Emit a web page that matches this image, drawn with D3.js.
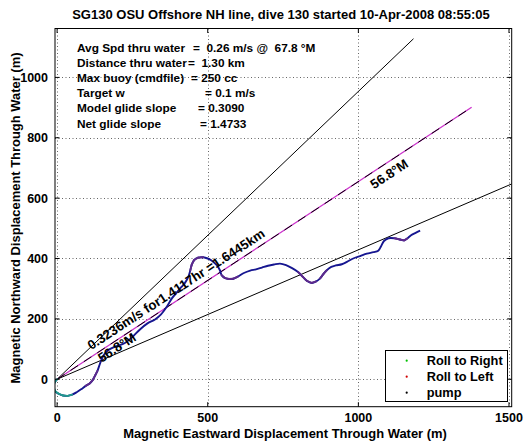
<!DOCTYPE html>
<html><head><meta charset="utf-8">
<script src="https://cdn.jsdelivr.net/npm/d3@7/dist/d3.min.js"></script>
<style>
body{margin:0;background:#fff;}
svg text{font-family:"Liberation Sans",Arial,Helvetica,sans-serif;font-weight:bold;fill:#000;}
</style></head><body>
<svg id="c" width="528" height="442"></svg>
<script>
// ---------- data ----------
const titleText = "SG130 OSU Offshore NH line, dive 130 started 10-Apr-2008 08:55:05";
const xLabel = "Magnetic Eastward Displacement Through Water (m)";
const yLabel = "Magnetic Northward Displacement Through Water (m)";
const xTicks = [0, 500, 1000, 1500];
const yTicks = [0, 200, 400, 600, 800, 1000];
const xDomain = [-7, 1509];
const yDomain = [-91, 1162];

const trackX = [0,-8,-12,-6,5,20,35,50,65,80,95,108,118,126,134,140,146,155,168,185,205,225,250,275,300,325,345,364,381,397,412,425,436,442,447,455,468,485,500,515,530,540,546,556,570,585,600,620,641,660,680,700,720,740,760,780,800,815,829,845,860,873,885,895,910,925,945,962,983,1006,1028,1050,1066,1075,1085,1100,1120,1138,1152,1162,1175,1190,1205];
const trackY = [0,-10,-25,-40,-48,-54,-55,-51,-43,-33,-22,-14,-3,12,28,45,62,80,95,105,112,120,140,165,185,198,215,240,268,287,305,320,340,360,380,395,403,404,400,392,378,362,345,336,332,333,340,352,360,364,370,376,380,383,378,368,355,340,326,319,324,334,350,361,372,377,381,389,400,408,416,421,426,440,458,467,467,463,460,466,477,485,492];
const trackState = ["R","R","R","R","R","R","R","","","","L","L","L","L","","","","","","","","","","","","","","","","","","","","L","L","L","L","","","","","","L","L","L","L","","","","","","","","","","","L","L","L","L","","L","L","","","","","","","","","","","","","","L","L","L","","","",""];

// reference lines from origin: [end x, end y]
const refNames = ["upper", "heading", "lower"];
const refEndX = [1183, 1376, 1509];
const refEndY = [1128, 901, 647];

const infoLeft = ["Avg Spd thru water", "Distance thru water", "Max buoy (cmdfile)", "Target w", "Model glide slope", "Net glide slope"];
const infoRight = ["=  0.26 m/s @  67.8 \u00B0M", "=  1.30 km", "= 250 cc", "= 0.1 m/s", "= 0.3090", "= 1.4733"];
const infoRightX = [193, 188, 191, 205, 198, 200];

const annText = ["0.3236m/s for1.4117hr =1.6445km", "56.8\u00B0M", "56.8\u00B0M"];
const annX = [113, 148, 1052];
const annY = [96, 54, 629];
const annAngle = -33.2;

const legendLabels = ["Roll to Right", "Roll to Left", "pump"];
const legendColors = ["#00c000", "#d00000", "#000000"];

// ---------- drawing ----------
const svg = d3.select("#c");
const L = 55, R = 511.7, T = 28.5, B = 406.7;
const x = d3.scaleLinear().domain(xDomain).range([L, R]);
const y = d3.scaleLinear().domain(yDomain).range([B, T]);

function fit(sel, target) {
  const w = sel.node().getComputedTextLength();
  const fs = parseFloat(sel.attr("font-size"));
  sel.attr("font-size", (fs * target / w).toFixed(2));
}

// grid
const grid = svg.append("g").attr("stroke", "#666").attr("stroke-width", 1).attr("stroke-dasharray", "1,2.5");
grid.selectAll(".gx").data(xTicks).join("line")
  .attr("x1", d => Math.round(x(d)) + 0.5).attr("x2", d => Math.round(x(d)) + 0.5).attr("y1", T).attr("y2", B);
grid.selectAll(".gy").data(yTicks).join("line")
  .attr("y1", d => Math.round(y(d)) + 0.5).attr("y2", d => Math.round(y(d)) + 0.5).attr("x1", L).attr("x2", R);

// clip
svg.append("clipPath").attr("id", "clip").append("rect").attr("x", L).attr("y", T).attr("width", R - L).attr("height", B - T);
const plot = svg.append("g").attr("clip-path", "url(#clip)");

// reference lines
const refs = refNames.map((n, i) => ({ n, x: refEndX[i], y: refEndY[i] }));
refs.forEach(r => {
  if (r.n === "heading") {
    plot.append("line").attr("x1", x(0)).attr("y1", y(0)).attr("x2", x(r.x)).attr("y2", y(r.y))
      .attr("stroke", "#cc33cc").attr("stroke-width", 1.3);
    plot.append("line").attr("x1", x(0)).attr("y1", y(0)).attr("x2", x(r.x)).attr("y2", y(r.y))
      .attr("stroke", "#000").attr("stroke-width", 1).attr("stroke-dasharray", "9,7");
  } else {
    plot.append("line").attr("x1", x(0)).attr("y1", y(0)).attr("x2", x(r.x)).attr("y2", y(r.y))
      .attr("stroke", "#000").attr("stroke-width", 1);
  }
});

// track
const pts = trackX.map((d, i) => ({ x: d, y: trackY[i], s: trackState[i] }));
const lineGen = d3.line().x(d => x(d.x)).y(d => y(d.y)).curve(d3.curveCatmullRom);
plot.append("path").datum(pts).attr("d", lineGen).attr("fill", "none")
  .attr("stroke", "#161690").attr("stroke-width", 1.9);
const segColor = { R: "#1f9a8c", L: "#5e2a8c" };
for (let i = 0; i < pts.length - 1; i++) {
  const s = pts[i].s;
  if (!s) continue;
  plot.append("line").attr("x1", x(pts[i].x)).attr("y1", y(pts[i].y))
    .attr("x2", x(pts[i + 1].x)).attr("y2", y(pts[i + 1].y))
    .attr("stroke", segColor[s]).attr("stroke-width", 1.9).attr("stroke-linecap", "round");
}

// axes box + ticks (inward, all sides)
svg.append("rect").attr("x", L).attr("y", T).attr("width", R - L).attr("height", B - T)
  .attr("fill", "none").attr("stroke", "#000").attr("stroke-width", 1);
const tk = svg.append("g").attr("stroke", "#000").attr("stroke-width", 1);
const tl = 4.5;
xTicks.forEach(d => {
  tk.append("line").attr("x1", x(d)).attr("x2", x(d)).attr("y1", B).attr("y2", B - tl);
  tk.append("line").attr("x1", x(d)).attr("x2", x(d)).attr("y1", T).attr("y2", T + tl);
});
yTicks.forEach(d => {
  tk.append("line").attr("y1", y(d)).attr("y2", y(d)).attr("x1", L).attr("x2", L + tl);
  tk.append("line").attr("y1", y(d)).attr("y2", y(d)).attr("x1", R).attr("x2", R - tl);
});

// tick labels
svg.selectAll(".xtl").data(xTicks).join("text").attr("class", "xtl")
  .attr("x", d => x(d)).attr("y", 421.5).attr("text-anchor", "middle").attr("font-size", 12.5).text(d => d);
svg.selectAll(".ytl").data(yTicks).join("text").attr("class", "ytl")
  .attr("x", 48).attr("y", d => y(d) + 4.5).attr("text-anchor", "end").attr("font-size", 12.5).text(d => d);

// axis labels
const xl = svg.append("text").attr("x", 285).attr("y", 437.5).attr("text-anchor", "middle").attr("font-size", 12.5).text(xLabel);
fit(xl, 324);
const yl = svg.append("text").attr("transform", "translate(19.5,218) rotate(-90)").attr("text-anchor", "middle")
  .attr("font-size", xl.attr("font-size")).text(yLabel);

// title
const tt = svg.append("text").attr("x", 281).attr("y", 18.5).attr("text-anchor", "middle").attr("font-size", 12).text(titleText);
fit(tt, 418);

// info text block
const infoY0 = 52, infoDy = 15.1;
const fl = svg.append("text").attr("x", 77).attr("y", infoY0).attr("font-size", 12).text(infoLeft[0]);
fit(fl, 108);
const infoFs = fl.attr("font-size");
fl.remove();
infoLeft.forEach((t, i) => {
  svg.append("text").attr("x", 77).attr("y", infoY0 + i * infoDy).attr("font-size", infoFs).text(t);
  svg.append("text").attr("x", infoRightX[i]).attr("y", infoY0 + i * infoDy).attr("font-size", infoFs)
    .style("white-space", "pre").attr("xml:space", "preserve").text(infoRight[i]);
});

// annotations
const a0 = svg.append("text").attr("font-size", 13).text(annText[0]);
fit(a0, 209);
const annFs = a0.attr("font-size");
a0.remove();
annText.forEach((t, i) => {
  svg.append("text").attr("transform", `translate(${x(annX[i])},${y(annY[i])}) rotate(${annAngle})`)
    .attr("font-size", annFs).text(t);
});

// legend
const lg = svg.append("g");
lg.append("rect").attr("x", 385.5).attr("y", 350.5).attr("width", 122).attr("height", 51)
  .attr("fill", "#fff").attr("stroke", "#000").attr("stroke-width", 1);
legendLabels.forEach((t, i) => {
  const cy = 360.7 + i * 16;
  lg.append("circle").attr("cx", 406.7).attr("cy", cy).attr("r", 1.1).attr("fill", legendColors[i]);
  const tx = lg.append("text").attr("x", 426.7).attr("y", cy + 4.5).attr("font-size", 12.5).text(t);
  if (i === 0) fit(tx, 76);
  else tx.attr("font-size", lg.select("text").attr("font-size"));
});
</script>
</body></html>
